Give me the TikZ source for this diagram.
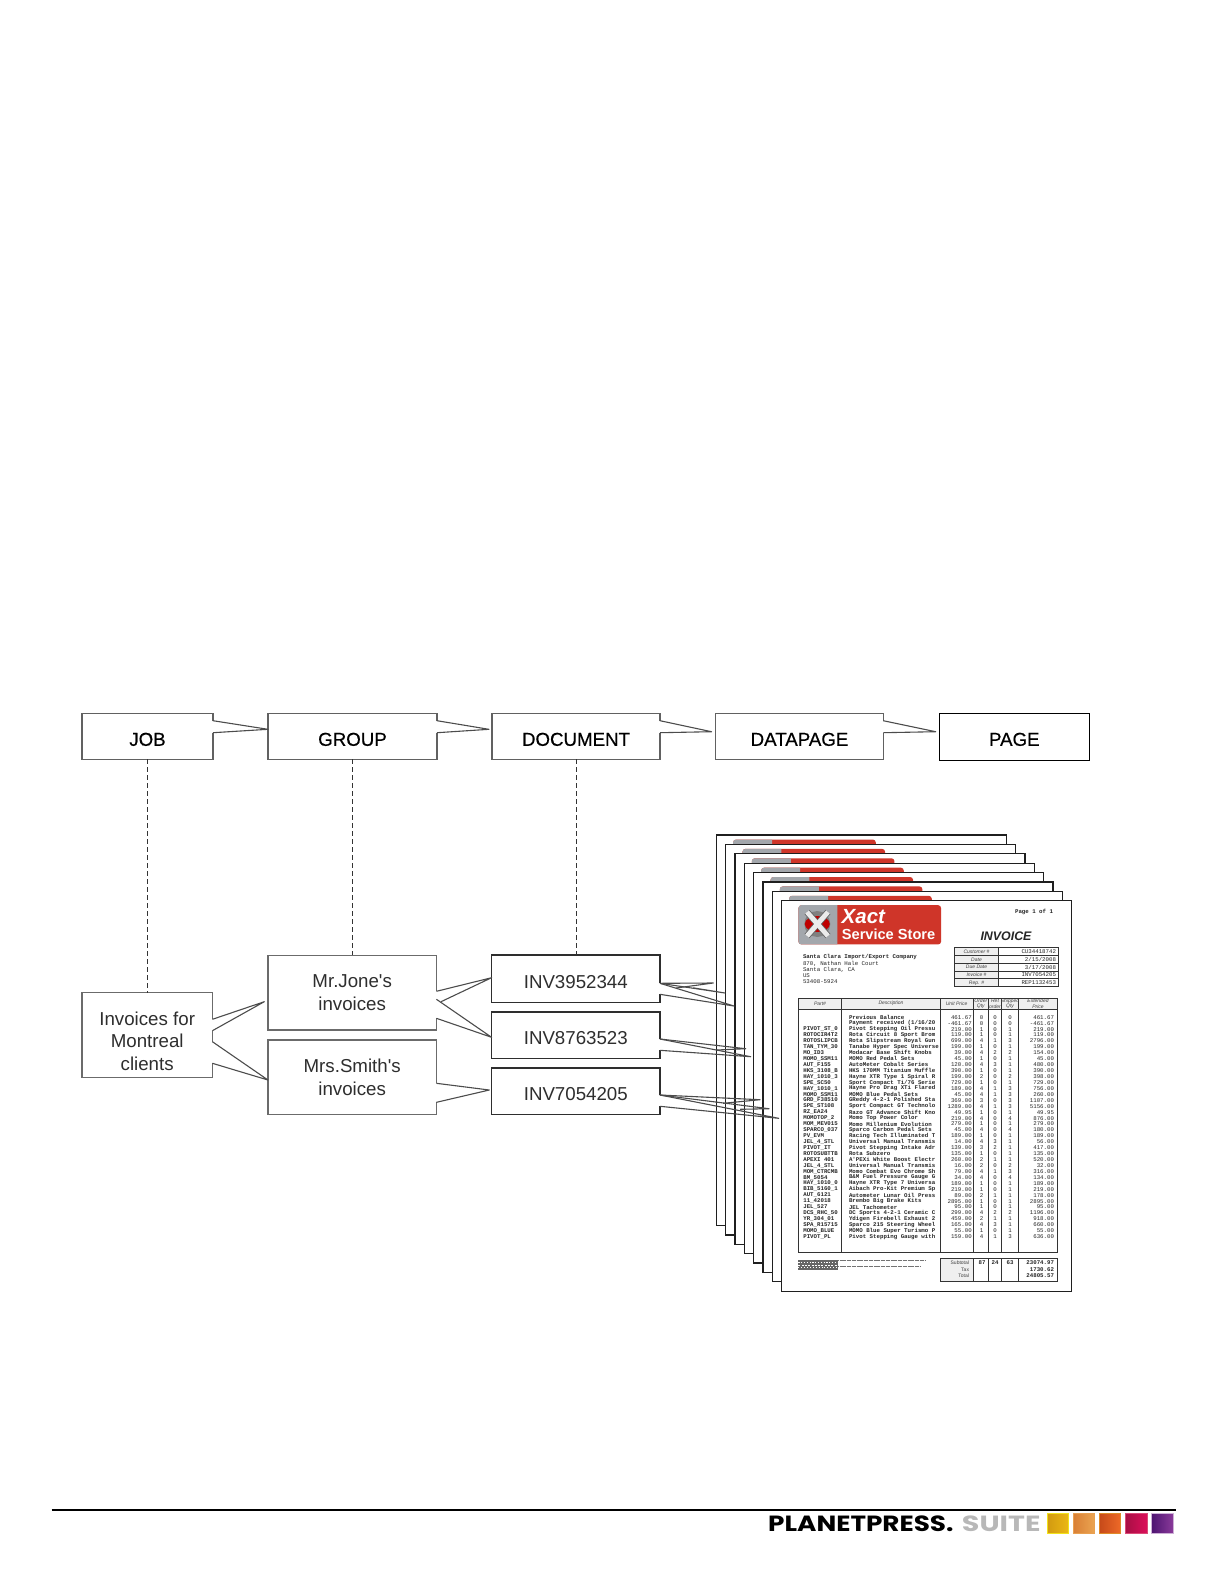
\documentclass[tikz,border=0pt]{standalone}
\usepackage{fontspec}
\setmainfont{Liberation Sans}
\newfontfamily\monofont{Liberation Mono}
\newfontfamily\headfont{Liberation Sans}[FakeBold=0.5]
\newfontfamily\logofont{Poppins}[FakeStretch=1.195]
\newfontfamily\suitefont{Poppins}[FakeStretch=1.3]

\definecolor{xactred}{HTML}{CF3529}
\definecolor{xactgrey}{HTML}{A3A7AC}
\definecolor{cellgrey}{HTML}{EFEFEF}
\definecolor{suitegrey}{HTML}{B8B8B8}

% White over the edge of a box, then the two sides of its pointer
\newcommand{\pointer}[4]{
  \draw[white, line width=2pt] (#1.east |- 0,#2) -- (#1.east |- 0,#3);
  \draw[tailline] (#1.east |- 0,#2) -- (#4) -- (#1.east |- 0,#3);
}
% First line of a box, pushed below the middle of the box
\newcommand{\lowered}[1]{\rule{0pt}{#1}}

\tikzset{
  levelbox/.style={draw=black!62, line width=1.4pt, fill=white, outer sep=0pt, inner sep=0pt,
    align=center, font=\headfont\fontsize{18.7}{22.3}\selectfont},
  invbox/.style={levelbox, draw=black!82, line width=1.6pt, text=black!82, font=\fontsize{18.7}{22.3}\selectfont},
  clientbox/.style={levelbox, draw=black!58, text=black!82, font=\fontsize{18.7}{22.3}\selectfont},
  tailline/.style={draw=black!70, line width=1.1pt, line join=round},
  linkline/.style={black!80, line width=0.8pt, dash pattern=on 5pt off 3pt},
  sheet/.style={draw=black!88, line width=1.3pt, fill=white},
  rule/.style={draw=black!80, line width=1pt},
  cell/.style={inner sep=0pt, outer sep=0pt, text=black!85, font=\monofont\bfseries\fontsize{5.75}{6}\selectfont},
  plaincell/.style={cell, font=\monofont\fontsize{5.75}{6}\selectfont},
  caption/.style={inner sep=0pt, outer sep=0pt, text=black!75, align=center,
    font=\itshape\fontsize{5}{5.4}\selectfont}
}

\begin{document}
\begin{tikzpicture}[x=1pt,y=-1pt]
  \useasboundingbox (0,0) rectangle (1225,1585);

  % Stack of invoice sheets
  \foreach \n in {0,...,7} {
    \pgfmathsetmacro{\px}{716.3+\n*9.33}
    \pgfmathsetmacro{\py}{835+\n*9.38}
    \draw[sheet] (\px,\py) rectangle ++(290,390.5);
    \fill[xactred, rounded corners=3] (\px+16.8,\py+4.5) rectangle ++(142.7,39.3);
    \begin{scope}
      \clip (\px+16.8,\py+4.5) rectangle ++(39,40);
      \fill[xactgrey, rounded corners=3] (\px+16.8,\py+4.5) rectangle ++(142.7,39.3);
    \end{scope}
  }

  % Logo on the front sheet
  \fill[black!50] (817.3,924) ellipse (13 and 13);
  \fill[red!75!black] (817.3,924) ellipse (12.5 and 8);
  \draw[black!60, line width=6.5pt] (807,912) -- (828,936);
  \draw[black!60, line width=6.5pt] (828,912) -- (807,936);
  \draw[black!8, line width=4.8pt] (807,912) -- (828,936);
  \draw[black!8, line width=4.8pt] (828,912) -- (807,936);
  \node[inner sep=0pt, text=white, anchor=west, font=\bfseries\itshape\fontsize{20.5}{22}\selectfont]
    (xact) at (841.5,916.7) {Xact};
  \node[inner sep=0pt, text=white, anchor=west, font=\bfseries\fontsize{14.6}{16}\selectfont]
    (store) at (841.7,934) {Service Store};

  % Head of the invoice
  \node[cell, anchor=east] (pageno) at (1053,911.7) {Page 1 of 1};
  \node[inner sep=0pt, text=black!85, font=\bfseries\itshape\fontsize{12.4}{14}\selectfont]
    (title) at (1006,936) {INVOICE};
  \node[cell, anchor=west] (addr0) at (803,957) {Santa Clara Import/Export Company};
  \foreach \line/\ly [count=\i] in {{870, Nathan Hale Court}/964.3, {Santa Clara, CA}/970, US/975.7, 53408-5924/981.7} {
    \node[plaincell, anchor=west] (addr\i) at (803,\ly) {\line};
  }

  % Customer table
  \fill[cellgrey] (954.3,947.7) rectangle (998.7,986.7);
  \draw[rule] (954.3,947.7) rectangle (1058,986.7);
  \draw[rule] (998.7,947.7) -- (998.7,986.7);
  \foreach \k in {1,...,4} {
    \draw[rule] (954.3,947.7+\k*7.8) -- (1058,947.7+\k*7.8);
  }
  \foreach \lab/\val [count=\i] in {Customer \#/CU34418742, Date/{2/15/2008}, Due Date/{3/17/2008}, Invoice \#/INV7054205, Rep. \#/REP1132453} {
    \pgfmathsetmacro{\ly}{951.6+(\i-1)*7.8}
    \node[caption] (infolab\i) at (976.5,\ly) {\lab};
    \node[plaincell, anchor=east] (infoval\i) at (1056,\ly) {\val};
  }

  % Table of parts
  \fill[cellgrey] (798.3,998.3) rectangle (1057.7,1009);
  \draw[rule] (798.3,998.3) rectangle (1057.7,1252.7);
  \draw[rule] (798.3,1009) -- (1057.7,1009);
  \foreach \cx in {841.7,940,973.3,988.3,1001.7,1018.3} {
    \draw[rule] (\cx,998.3) -- (\cx,1252.7);
  }
  \node[caption] (headpart) at (820,1003.6) {Part\#};
  \node[caption] (headdesc) at (891,1003.6) {Description};
  \node[caption] (headunit) at (956.6,1003.6) {Unit Price};
  \node[caption] (headord) at (980.8,1003.6) {Order\\Qty};
  \node[caption] (headback) at (995,1003.6) {Ret\\order};
  \node[caption] (headship) at (1010,1003.6) {Shipped\\Qty};
  \node[caption] (headext) at (1038,1003.6) {Extended\\Price};

  \foreach \rpart/\rdesc/\runit/\rord/\rback/\rship/\rext [count=\i] in {
    {}/Previous Balance/461.67/0/0/0/461.67,
    {}/{Payment received (1/16/20}/-461.67/0/0/0/-461.67,
    PIVOT\_ST\_0/Pivot Stepping Oil Pressu/219.00/1/0/1/219.00,
    ROTOCIR4T2/Rota Circuit 8 Sport Brom/119.00/1/0/1/119.00,
    ROTOSLIPCB/Rota Slipstream Royal Gun/699.00/4/1/3/2796.00,
    TAN\_TYM\_30/Tanabe Hyper Spec Universe/199.00/1/0/1/199.00,
    MO\_ID3/Modacar Base Shift Knobs/39.00/4/2/2/154.00,
    MOMO\_SSM11/MOMO Red Pedal Sets/45.00/1/0/1/45.00,
    AUT\_F155/AutoMeter Cobalt Series/120.00/4/3/1/480.00,
    HKS\_3108\_B/HKS 170MM Titanium Muffle/390.00/1/0/1/390.00,
    HAY\_1010\_3/Hayne XTR Type 1 Spiral R/199.00/2/0/2/398.00,
    SPE\_SC50/{Sport Compact Ti/76 Serie}/729.00/1/0/1/729.00,
    HAY\_1010\_1/Hayne Pro Drag XTi Flared/189.00/4/1/3/756.00,
    MOMO\_SSM11/MOMO Blue Pedal Sets/45.00/4/1/3/260.00,
    GRD\_F38510/GReddy 4-2-1 Polished Sta/369.00/3/0/3/1107.00,
    SPE\_ST108/Sport Compact GT Technolo/1289.00/4/1/3/5156.00,
    RZ\_EA24/Razo GT Advance Shift Kno/49.95/1/0/1/49.95,
    MOMOTOP\_2/Momo Top Power Color/219.00/4/0/4/876.00,
    MOM\_MEV015/Momo Millenium Evolution/279.00/1/0/1/279.00,
    SPARCO\_037/Sparco Carbon Pedal Sets/45.00/4/0/4/180.00,
    PV\_EVM/Racing Tech Illuminated T/189.00/1/0/1/189.00,
    JEL\_4\_STL/Universal Manual Transmis/14.00/4/3/1/56.00,
    PIVOT\_IT/Pivot Stepping Intake Adr/139.00/3/2/1/417.00,
    ROTOSUBTTB/Rota Subzero/135.00/1/0/1/135.00,
    APEXI 401/A'PEXi White Boost Electr/260.00/2/1/1/520.00,
    JEL\_4\_STL/Universal Manual Transmis/16.00/2/0/2/32.00,
    MOM\_CTRCMB/Momo Combat Evo Chrome Sh/79.00/4/1/3/316.00,
    BM\_5054/B\&M Fuel Pressure Gauge G/34.00/4/0/4/134.00,
    HAY\_1010\_0/Hayne XTR Type 7 Universa/189.00/1/0/1/189.00,
    BIB\_5160\_1/Aibach Pro-Kit Premium Sp/219.00/1/0/1/219.00,
    AUT\_6121/Autometer Lunar Oil Press/89.00/2/1/1/178.00,
    11\_42018/Brembo Big Brake Kits/2895.00/1/0/1/2895.00,
    JEL\_527/JEL Tachometer/95.00/1/0/1/95.00,
    DCS\_RHC\_50/DC Sports 4-2-1 Ceramic C/299.00/4/2/2/1196.00,
    YR\_304\_01/Ydigen Firebell Exhaust 2/459.00/2/1/1/918.00,
    SPA\_R15715/Sparco 215 Steering Wheel/165.00/4/3/1/660.00,
    MOMO\_BLUE/MOMO Blue Super Turismo P/55.00/1/0/1/55.00,
    PIVOT\_PL/Pivot Stepping Gauge with/159.00/4/1/3/636.00%
  } {
    \pgfmathsetmacro{\ry}{1017.3+(\i-1)*5.93}
    \node[cell, anchor=west] (part\i) at (803.3,\ry) {\rpart};
    \node[cell, anchor=west] (desc\i) at (849,\ry) {\rdesc};
    \node[plaincell, anchor=east] (unit\i) at (971.7,\ry) {\runit};
    \node[plaincell] (ord\i) at (981.5,\ry) {\rord};
    \node[plaincell] (back\i) at (995,\ry) {\rback};
    \node[plaincell] (ship\i) at (1010,\ry) {\rship};
    \node[plaincell, anchor=east] (ext\i) at (1054,\ry) {\rext};
  }

  % Barcode and fine print
  \fill[black!60] (798.3,1260) rectangle (838,1270);
  \draw[white, line width=0.6pt, dash pattern=on 1.2pt off 1.6pt] (798.3,1262.5) -- (838,1262.5);
  \draw[white, line width=0.6pt, dash pattern=on 2pt off 1.3pt] (798.3,1265) -- (838,1265);
  \draw[white, line width=0.6pt, dash pattern=on 0.9pt off 2pt] (798.3,1267.5) -- (838,1267.5);
  \draw[black!55, line width=1.5pt, dash pattern=on 1.4pt off 0.3pt] (838,1260.7) -- (925,1260.7);
  \draw[black!55, line width=1.5pt, dash pattern=on 1.4pt off 0.3pt] (838,1266.5) -- (920,1266.5);

  % Totals
  \fill[cellgrey] (940,1258.3) rectangle (973.3,1281.7);
  \draw[rule] (940,1258.3) rectangle (1057.7,1281.7);
  \foreach \cx in {973.3,988.3,1001.7,1018.3} {
    \draw[rule] (\cx,1258.3) -- (\cx,1281.7);
  }
  \foreach \lab/\val/\ly [count=\i] in {Subtotal/23074.97/1262.6, Tax/1730.62/1269.4, Total/24805.57/1276} {
    \node[caption, anchor=east, font=\fontsize{5}{5.4}\selectfont] (sumlab\i) at (969,\ly) {\lab};
    \node[cell, anchor=east] (sumval\i) at (1054,\ly) {\val};
  }
  \node[cell] (sumord) at (982,1262.6) {87};
  \node[cell] (sumback) at (995,1262.6) {24};
  \node[cell] (sumship) at (1010,1262.6) {63};

  % Level boxes
  \node[levelbox, minimum width=131, minimum height=46] (job) at (147.5,736.2) {\lowered{19.4pt}JOB};
  \node[levelbox, minimum width=169, minimum height=46] (group) at (352.5,736.2) {\lowered{19.4pt}GROUP};
  \node[levelbox, minimum width=168, minimum height=46] (document) at (576,736.2) {\lowered{19.4pt}DOCUMENT};
  \node[levelbox, minimum width=167.5, minimum height=46] (datapage) at (799.5,736.2) {\lowered{19.4pt}DATAPAGE};
  \node[levelbox, draw=black, line width=1pt, minimum width=150, minimum height=46.7] (page) at (1014.3,736.7) {\lowered{18.4pt}PAGE};

  % Client and invoice boxes
  \node[clientbox, minimum width=130.4, minimum height=84.6] (clients) at (147.2,1035) {\lowered{25.6pt}Invoices for\\Montreal\\clients};
  \node[clientbox, minimum width=168.5, minimum height=74.7] (jones) at (352.2,992.7) {Mr.Jone\textquotesingle s\\invoices};
  \node[clientbox, minimum width=168.5, minimum height=74.3] (smith) at (352.2,1077.2) {Mrs.Smith\textquotesingle s\\invoices};
  \node[invbox, minimum width=168.4, minimum height=47.3] (inva) at (575.8,978.7) {\lowered{19.4pt}INV3952344};
  \node[invbox, minimum width=168.4, minimum height=46.6] (invb) at (575.8,1035) {\lowered{19.4pt}INV8763523};
  \node[invbox, minimum width=168.4, minimum height=46.6] (invc) at (575.8,1091) {\lowered{19.4pt}INV7054205};

  % Dashed links
  \draw[linkline] (job.south -| 147.5,0) -- (clients.north -| 147.5,0);
  \draw[linkline] (group.south -| 352.7,0) -- (jones.north -| 352.7,0);
  \draw[linkline] (document.south -| 576,0) -- (inva.north -| 576,0);

  % Pointers along the top
  \coordinate (jobtip) at (268,729.3);
  \coordinate (grouptip) at (489,729.3);
  \coordinate (documenttip) at (711.5,731.7);
  \coordinate (datapagetip) at (935.7,731.7);
  \pointer{job}{720.7}{732.7}{jobtip}
  \pointer{group}{720.7}{732.7}{grouptip}
  \pointer{document}{720.7}{732.7}{documenttip}
  \pointer{datapage}{720.7}{732.7}{datapagetip}

  % Pointers from clients
  \coordinate (jonestip) at (264.3,1001.7);
  \coordinate (smithtip) at (268,1080);
  \coordinate (invatip) at (491.6,977.7);
  \coordinate (invbtip) at (491.6,1037.3);
  \coordinate (invctip) at (489.3,1090);
  \pointer{clients}{1019.3}{1030.7}{jonestip}
  \pointer{clients}{1041.7}{1063.3}{smithtip}
  \draw[white, line width=2pt] (jones.east |- 0,991.3) -- (jones.east |- 0,1003);
  \draw[tailline] (jones.east |- 0,991.3) -- (invatip) -- (441,1001.7);
  \pointer{jones}{999.3}{1018.3}{invbtip}
  \pointer{smith}{1083.3}{1102.3}{invctip}

  % Pointers from INV3952344 to its pages
  \coordinate (tipaa) at (713.3,983);
  \coordinate (tipab) at (725,993);
  \coordinate (tipac) at (734,1006);
  \pointer{inva}{983.3}{994.3}{tipac}
  \coordinate (notchaa) at (676,988);
  \coordinate (notchab) at (693,987.8);
  \draw[tailline] (inva.east |- 0,983.3) -- (tipaa) -- (notchaa);
  \draw[tailline] (inva.east |- 0,983.3) -- (tipab) -- (notchab);

  % Pointers from INV8763523 to its pages
  \coordinate (tipba) at (745.7,1048.7);
  \coordinate (tipbb) at (750.7,1056.7);
  \coordinate (notchba) at (716.7,1050);
  \pointer{invb}{1039}{1050.3}{tipbb}
  \draw[tailline] (invb.east |- 0,1039) -- (tipba) -- (notchba);

  % Pointers from INV7054205 to its pages
  \coordinate (tipca) at (760,1099.7);
  \coordinate (tipcb) at (769,1108.7);
  \coordinate (tipcc) at (778.7,1118.3);
  \coordinate (notchca) at (723,1103.3);
  \coordinate (notchcb) at (740,1109.3);
  \pointer{invc}{1095}{1106.3}{tipcc}
  \draw[tailline] (invc.east |- 0,1095) -- (tipca) -- (notchca);
  \draw[tailline] (invc.east |- 0,1095) -- (tipcb) -- (notchcb);

  % Foot of the page
  \draw[black, line width=2pt] (51.5,1510) -- (1176,1510);
  \node[inner sep=0pt, anchor=west, font=\logofont\bfseries\fontsize{22}{24}\selectfont] (planet) at (768,1524) {PLANETPRESS.};
  \node[inner sep=0pt, anchor=west, text=suitegrey, font=\suitefont\bfseries\fontsize{22}{24}\selectfont] (suite) at (961.7,1524) {SUITE};
  \foreach \sx/\sdark/\slight/\sedge in {
    1047.3/D29A10/EBB815/F2E21A,
    1073.3/D97F35/EBA552/E9A050,
    1099.3/C64A1A/EE6A28/E08A28,
    1125.7/A80F45/DC0F5A/DB4A78,
    1151.7/4E1572/8A3A9A/CDB0D6} {
    \definecolor{sqdark}{HTML}{\sdark}
    \definecolor{sqlight}{HTML}{\slight}
    \definecolor{sqedge}{HTML}{\sedge}
    \shade[left color=sqdark, right color=sqlight, draw=sqedge, line width=1.3pt] (\sx,1513.3) rectangle ++(21.5,20);
  }
\end{tikzpicture}
\end{document}
